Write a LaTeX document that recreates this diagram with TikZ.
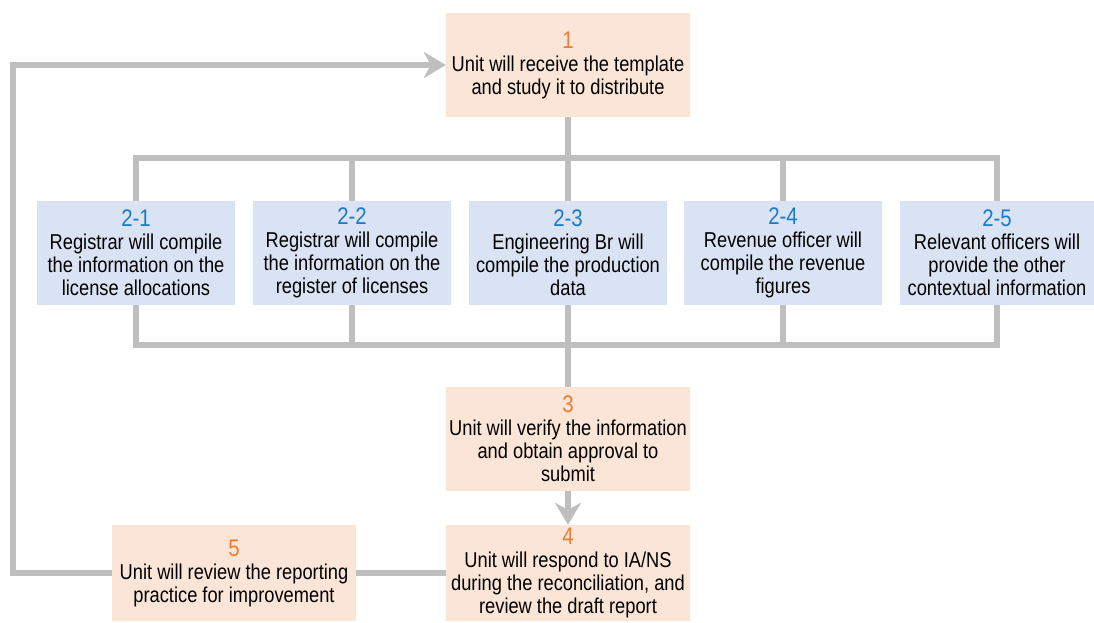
\documentclass[tikz,border=0pt]{standalone}
\usepackage{fontspec}
\setmainfont{Liberation Sans}[FakeStretch=0.85]
\usepackage{xcolor}
\usetikzlibrary{arrows.meta,calc,positioning}
\definecolor{unitfill}{HTML}{FBE5D6}
\definecolor{officerfill}{HTML}{DAE3F3}
\definecolor{numorange}{HTML}{ED7D31}
\definecolor{numblue}{HTML}{1A7BC9}
\definecolor{linkgray}{HTML}{BFBFBF}
\newcommand{\unitno}[1]{{\fontsize{24}{23}\selectfont\textcolor{numorange}{#1}}}
\newcommand{\officerno}[1]{{\fontsize{24}{23}\selectfont\textcolor{numblue}{#1}}}

\begin{document}
\begin{tikzpicture}[x=1pt,y=-1pt]
			\tikzstyle{every node}=[font=\fontsize{21.5}{23}\selectfont, align=center, inner sep=0pt]
			\tikzstyle{unitbox}=[rectangle, fill=unitfill, minimum width=244pt, minimum height=104pt]
			\tikzstyle{officerbox}=[rectangle, fill=officerfill, minimum width=198pt, minimum height=104pt]
			\tikzstyle{link}=[draw=linkgray, line width=6pt]
			\tikzstyle{linkarrow}=[link, -{Stealth[length=22pt, width=26pt, inset=7pt]}]
			\useasboundingbox (0,0) rectangle (1094,623);
			% unit steps
			\node [unitbox] (b1) at (568,65) {\unitno{1}\\Unit will receive the template\\and study it to distribute};
			\node [unitbox] (b3) at (568,439) {\unitno{3}\\Unit will verify the information\\and obtain approval to\\submit};
			\node [unitbox, minimum height=96pt] (b4) at (568,573) {\unitno{4}\\Unit will respond to IA/NS\\during the reconciliation, and\\review the draft report};
			\node [unitbox, minimum height=96pt] (b5) at (234,573) {\unitno{5}\\Unit will review the reporting\\practice for improvement};
			% officer steps
			\node [officerbox] (b21) at (136,253) {\officerno{2-1}\\Registrar will compile\\the information on the\\license allocations};
			\node [officerbox] (b22) at (352,253) {\officerno{2-2}\\Registrar will compile\\the information on the\\register of licenses};
			\node [officerbox] (b23) at (568,253) {\officerno{2-3}\\Engineering Br will\\compile the production\\data};
			\node [officerbox] (b24) at (783,253) {\officerno{2-4}\\Revenue officer will\\compile the revenue\\figures};
			\node [officerbox, minimum width=194pt] (b25) at (997,253) {\officerno{2-5}\\Relevant officers will\\provide the other\\contextual information};
			\coordinate (tbus) at (568,158);
			\coordinate (bbus) at (568,345);
			\coordinate (lp) at (13,65);
			% connectors
			\draw [link] (b1.south) -- (tbus);
			\draw [link] (b21.north) |- (tbus) -| (b25.north);
			\draw [link] (b21.south) |- (bbus) -| (b25.south);
			\foreach \n in {22,23,24} {
				\draw [link] (b\n.north) -- (b\n.north |- tbus);
				\draw [link] (b\n.south) -- (b\n.south |- bbus);
			}
			\draw [link] (bbus) -- (b3.north);
			\draw [linkarrow] (b3.south) -- (b4.north);
			\draw [link] (b4.west) -- (b5.east);
			\draw [linkarrow] (b5.west) -| (lp) |- (b1.west);
		\end{tikzpicture}
\end{document}
